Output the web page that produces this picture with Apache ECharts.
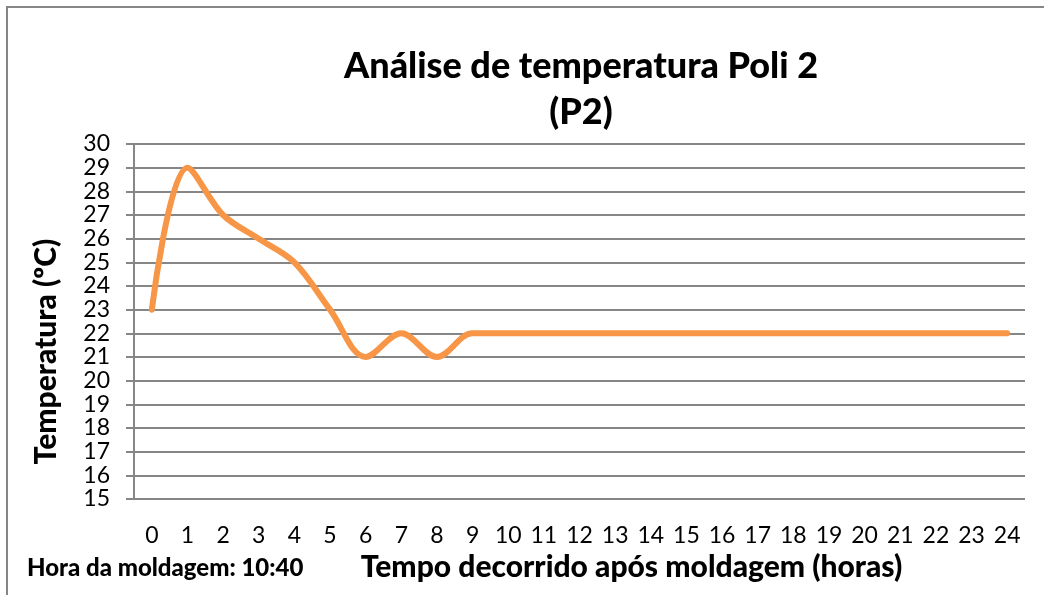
<!DOCTYPE html>
<html>
<head>
<meta charset="utf-8">
<script src="https://cdn.jsdelivr.net/npm/echarts@6/dist/echarts.min.js"></script>
<style>
  html, body { margin: 0; padding: 0; background: #fff; }
  #chart { width: 1044px; height: 595px; }
</style>
</head>
<body>
<div id="chart"></div>
<script>
// horas decorridas (eixo x)
const horas = ['0', '1', '2', '3', '4', '5', '6', '7', '8', '9', '10', '11', '12',
  '13', '14', '15', '16', '17', '18', '19', '20', '21', '22', '23', '24'];
// temperatura medida (ºC)
const temperatura = [23, 29, 27, 26, 25, 23, 21, 22, 21, 22, 22, 22, 22,
  22, 22, 22, 22, 22, 22, 22, 22, 22, 22, 22, 22];

const fonte = 'Lato, "Open Sans", sans-serif';
const cinza = '#868686';

const chart = echarts.init(document.getElementById('chart'));

const option = {
  backgroundColor: '#fff',
  animation: false,
  title: {
    text: 'Análise de temperatura Poli 2\n(P2)',
    left: 576,
    top: 38,
    textAlign: 'center',
    textStyle: {
      fontFamily: fonte,
      fontSize: 36,
      fontWeight: 900,
      color: '#000',
      lineHeight: 46
    }
  },
  graphic: [
    {
      // moldura do gráfico
      type: 'rect',
      shape: { x: 7, y: 7, width: 1100, height: 700 },
      style: { fill: 'none', stroke: cinza, lineWidth: 2 },
      silent: true
    },
    {
      type: 'text',
      left: 27,
      top: 556,
      style: {
        text: 'Hora da moldagem: 10:40',
        font: '900 24px ' + fonte,
        fill: '#000'
      }
    }
  ],
  grid: {
    left: 134,
    right: 19,
    top: 144,
    bottom: 96
  },
  xAxis: {
    type: 'category',
    data: horas,
    boundaryGap: true,
    name: 'Tempo decorrido após moldagem (horas)',
    nameLocation: 'middle',
    nameGap: 51,
    nameTextStyle: {
      fontFamily: fonte,
      fontSize: 30,
      fontWeight: 900,
      color: '#000',
      padding: [0, 0, 0, 104]
    },
    axisLine: { show: false },
    axisTick: { show: false },
    axisLabel: {
      margin: 25,
      fontFamily: fonte,
      fontSize: 23,
      color: '#000'
    }
  },
  yAxis: {
    type: 'value',
    min: 15,
    max: 30,
    interval: 1,
    name: 'Temperatura (ºC)',
    nameLocation: 'middle',
    nameGap: 73,
    nameTextStyle: {
      fontFamily: fonte,
      fontSize: 30,
      fontWeight: 900,
      color: '#000',
      padding: [0, 60, 0, 0]
    },
    axisLine: { show: true, lineStyle: { color: cinza, width: 2 } },
    axisTick: { show: true, inside: false, length: 8, lineStyle: { color: cinza, width: 2 } },
    axisLabel: {
      margin: 24,
      fontFamily: fonte,
      fontSize: 23,
      color: '#000'
    },
    splitLine: { show: true, lineStyle: { color: cinza, width: 2 } }
  },
  series: [
    {
      type: 'line',
      data: temperatura,
      smooth: 0.35,
      symbol: 'none',
      lineStyle: { color: '#F79646', width: 6, cap: 'round' },
      itemStyle: { color: '#F79646' }
    }
  ]
};

chart.setOption(option);
</script>
</body>
</html>
